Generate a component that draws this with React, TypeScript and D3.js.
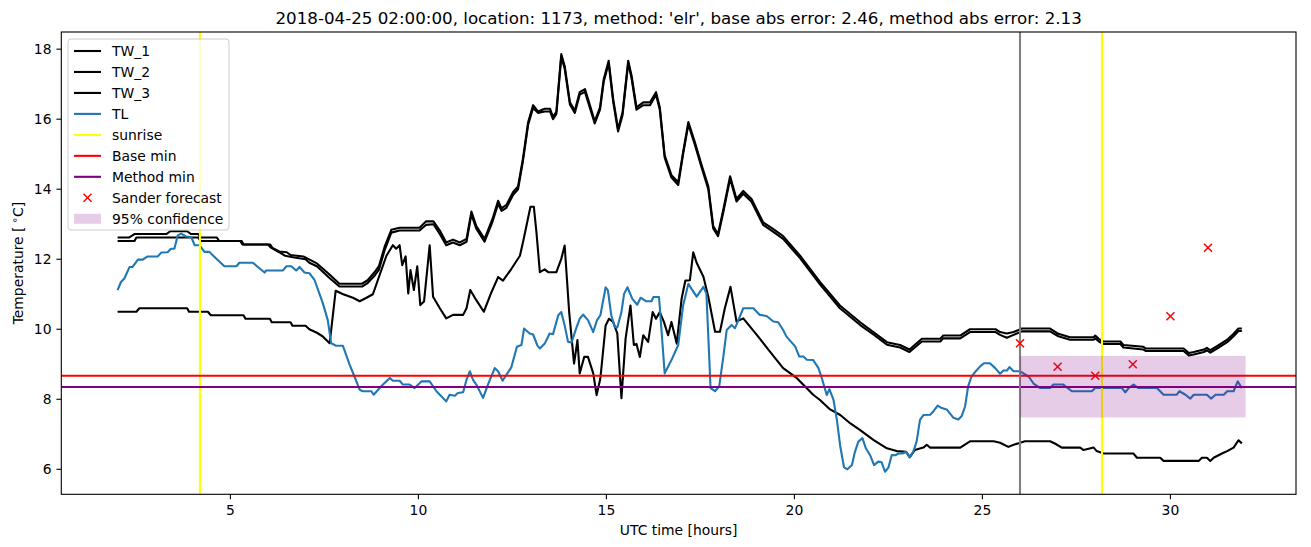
import React from "react";
import * as d3 from "d3";

type P = [number, number];

const TITLE = "2018-04-25 02:00:00, location: 1173, method: 'elr', base abs error: 2.46, method abs error: 2.13";
const X_TICKS = [5, 10, 15, 20, 25, 30];
const Y_TICKS = [6, 8, 10, 12, 14, 16, 18];
const LEGEND_LABELS = ["TW_1", "TW_2", "TW_3", "TL", "sunrise", "Base min", "Method min", "Sander forecast", "95% confidence"];

const tw1: P[] = [[2.0,12.62],[2.3,12.62],[2.45,12.72],[3.3,12.72],[3.4,12.8],[3.85,12.8],[3.95,12.72],[4.15,12.72],[4.2,12.62],[4.64,12.62],[4.7,12.52],[5.26,12.52],[5.32,12.42],[6.06,12.42],[6.12,12.32],[6.3,12.22],[6.5,12.2],[6.6,12.12],[6.94,12.08],[7.12,11.98],[7.3,11.88],[7.47,11.72],[7.65,11.55],[7.9,11.3],[8.5,11.3],[8.65,11.4],[8.85,11.65],[8.95,11.8],[9.1,12.35],[9.28,12.84],[9.5,12.9],[10.03,12.9],[10.2,13.08],[10.4,13.08],[10.58,12.8],[10.74,12.48],[10.92,12.56],[11.1,12.48],[11.28,12.58],[11.41,13.36],[11.54,12.95],[11.76,12.58],[11.97,13.15],[12.12,13.67],[12.21,13.45],[12.34,13.55],[12.52,13.92],[12.65,14.08],[12.78,14.87],[12.92,15.92],[13.05,16.4],[13.18,16.22],[13.36,16.3],[13.5,16.3],[13.58,16.06],[13.67,16.22],[13.8,17.86],[13.89,17.52],[14.03,16.48],[14.16,16.25],[14.29,16.77],[14.43,16.86],[14.51,16.58],[14.69,15.94],[14.83,16.34],[14.93,17.15],[15.06,17.67],[15.18,16.58],[15.31,15.72],[15.43,16.2],[15.58,17.67],[15.67,17.24],[15.8,16.34],[15.98,16.48],[16.16,16.48],[16.32,16.77],[16.42,16.34],[16.55,14.97],[16.73,14.4],[16.91,14.2],[17.04,15.06],[17.18,15.92],[17.35,15.35],[17.53,14.7],[17.71,14.08],[17.84,12.95],[17.97,12.72],[18.11,13.42],[18.29,14.37],[18.46,13.72],[18.64,13.95],[18.86,13.72],[19.17,13.05],[19.44,12.86],[19.7,12.66],[20.15,12.1],[20.68,11.35],[21.21,10.68],[21.75,10.2],[22.1,9.92],[22.46,9.63],[22.81,9.55],[23.06,9.42],[23.39,9.73],[23.88,9.73],[23.96,9.82],[24.41,9.82],[24.67,10.0],[25.35,10.0],[25.47,9.92],[25.65,9.88],[25.83,9.92],[26.05,10.02],[26.8,10.02],[27.02,9.87],[27.33,9.77],[27.96,9.77],[28.0,9.82],[28.1,9.72],[28.22,9.65],[28.67,9.65],[28.75,9.55],[29.28,9.5],[29.35,9.45],[29.55,9.45],[30.35,9.45],[30.49,9.32],[30.62,9.35],[30.89,9.42],[30.97,9.47],[31.06,9.4],[31.24,9.52],[31.51,9.7],[31.68,9.87],[31.81,10.02],[31.9,10.02]];

const tw2: P[] = [[2.0,12.52],[2.45,12.52],[2.5,12.62],[4.15,12.62],[4.2,12.52],[5.3,12.52],[5.35,12.42],[6.0,12.42],[6.08,12.33],[6.3,12.2],[6.45,12.1],[6.7,12.05],[7.0,12.0],[7.1,11.9],[7.3,11.8],[7.45,11.65],[7.65,11.45],[7.9,11.22],[8.5,11.22],[8.65,11.32],[8.85,11.55],[8.95,11.7],[9.1,12.25],[9.28,12.76],[9.5,12.82],[10.03,12.82],[10.2,12.98],[10.4,13.0],[10.58,12.7],[10.74,12.4],[10.92,12.48],[11.1,12.4],[11.28,12.5],[11.41,13.28],[11.54,12.87],[11.76,12.5],[11.97,13.07],[12.12,13.58],[12.21,13.38],[12.34,13.47],[12.52,13.84],[12.65,14.0],[12.78,14.8],[12.92,15.85],[13.05,16.32],[13.18,16.18],[13.36,16.22],[13.5,16.22],[13.58,16.0],[13.67,16.15],[13.8,17.78],[13.89,17.45],[14.03,16.42],[14.16,16.18],[14.29,16.7],[14.43,16.78],[14.51,16.5],[14.69,15.88],[14.83,16.27],[14.93,17.08],[15.06,17.6],[15.18,16.5],[15.31,15.65],[15.43,16.12],[15.58,17.6],[15.67,17.16],[15.8,16.27],[15.98,16.4],[16.16,16.4],[16.32,16.7],[16.42,16.27],[16.55,14.9],[16.73,14.33],[16.91,14.12],[17.04,15.0],[17.18,15.85],[17.35,15.28],[17.53,14.63],[17.71,14.0],[17.84,12.88],[17.97,12.66],[18.11,13.35],[18.29,14.3],[18.46,13.65],[18.64,13.87],[18.86,13.64],[19.17,12.98],[19.44,12.78],[19.7,12.58],[20.15,12.03],[20.68,11.28],[21.21,10.6],[21.75,10.12],[22.1,9.85],[22.46,9.56],[22.81,9.48],[23.06,9.35],[23.39,9.65],[23.88,9.65],[23.96,9.74],[24.41,9.74],[24.67,9.92],[25.35,9.92],[25.47,9.84],[25.65,9.76],[25.83,9.84],[26.05,9.94],[26.8,9.94],[27.02,9.8],[27.33,9.7],[27.96,9.7],[28.0,9.74],[28.1,9.65],[28.22,9.58],[28.67,9.58],[28.75,9.48],[29.28,9.42],[29.35,9.38],[29.55,9.38],[30.35,9.38],[30.49,9.25],[30.62,9.28],[30.89,9.35],[30.97,9.4],[31.06,9.33],[31.24,9.45],[31.51,9.63],[31.68,9.8],[31.81,9.95],[31.9,9.95]];

const tw3: P[] = [[2.0,10.5],[2.5,10.5],[2.58,10.6],[3.85,10.6],[3.9,10.5],[4.4,10.5],[4.48,10.4],[5.35,10.4],[5.4,10.3],[6.05,10.3],[6.1,10.2],[6.6,10.2],[6.65,10.1],[7.0,10.1],[7.1,10.0],[7.3,9.9],[7.45,9.8],[7.64,9.6],[7.8,11.1],[8.0,11.0],[8.26,10.9],[8.44,10.8],[8.62,10.9],[8.79,11.0],[8.92,11.4],[9.15,12.1],[9.32,12.4],[9.41,12.3],[9.5,12.4],[9.57,11.83],[9.66,12.08],[9.73,11.02],[9.79,11.69],[9.88,11.12],[9.97,11.8],[10.05,10.69],[10.15,10.79],[10.3,12.4],[10.39,10.93],[10.57,10.6],[10.74,10.31],[10.92,10.41],[11.19,10.41],[11.28,10.6],[11.38,11.12],[11.54,10.83],[11.74,10.5],[11.94,11.05],[12.12,11.49],[12.25,11.39],[12.47,11.72],[12.7,12.1],[12.78,12.48],[12.92,13.19],[12.98,13.5],[13.07,13.5],[13.14,12.77],[13.23,11.63],[13.36,11.71],[13.45,11.63],[13.67,11.63],[13.8,12.01],[13.89,12.39],[14.01,10.49],[14.14,9.02],[14.23,9.69],[14.29,8.74],[14.41,9.21],[14.51,9.21],[14.65,8.74],[14.74,8.12],[14.84,8.6],[14.98,10.11],[15.07,10.3],[15.18,10.21],[15.29,9.88],[15.4,8.03],[15.51,9.73],[15.64,10.68],[15.73,9.55],[15.8,9.58],[15.89,9.21],[15.98,9.83],[16.11,9.64],[16.23,10.49],[16.32,10.3],[16.42,10.49],[16.53,10.21],[16.64,9.83],[16.73,10.21],[16.87,9.59],[17.0,10.87],[17.1,11.39],[17.22,11.4],[17.31,12.2],[17.4,11.9],[17.58,11.5],[17.71,10.93],[17.89,9.93],[18.02,9.93],[18.15,10.6],[18.3,11.21],[18.46,10.22],[18.64,10.31],[19.0,9.84],[19.35,9.36],[19.7,8.89],[20.06,8.61],[20.5,8.13],[20.68,7.98],[20.95,7.71],[21.22,7.55],[21.49,7.31],[21.75,7.12],[22.1,6.84],[22.46,6.6],[22.72,6.52],[22.97,6.5],[23.07,6.35],[23.2,6.55],[23.43,6.62],[23.52,6.7],[23.61,6.62],[24.41,6.62],[24.67,6.8],[25.3,6.8],[25.47,6.76],[25.69,6.64],[25.83,6.7],[26.13,6.8],[26.8,6.8],[26.94,6.73],[27.11,6.62],[27.6,6.62],[27.69,6.55],[27.96,6.62],[28.04,6.52],[28.22,6.45],[29.02,6.45],[29.11,6.33],[29.73,6.33],[29.82,6.24],[30.75,6.24],[30.84,6.33],[30.97,6.33],[31.06,6.24],[31.15,6.33],[31.37,6.45],[31.51,6.52],[31.68,6.62],[31.81,6.83],[31.9,6.74]];

const tl: P[] = [[2.0,11.12],[2.09,11.35],[2.18,11.45],[2.32,11.78],[2.4,11.78],[2.54,11.99],[2.67,11.99],[2.8,12.08],[3.07,12.08],[3.16,12.19],[3.33,12.2],[3.42,12.3],[3.51,12.3],[3.6,12.68],[3.69,12.73],[3.82,12.65],[3.96,12.63],[4.05,12.4],[4.18,12.4],[4.31,12.21],[4.44,12.21],[4.62,12.02],[4.84,11.8],[5.16,11.8],[5.24,11.9],[5.6,11.9],[5.73,11.78],[5.91,11.62],[5.95,11.68],[6.4,11.68],[6.49,11.8],[6.62,11.8],[6.75,11.68],[6.84,11.78],[6.97,11.62],[7.1,11.6],[7.24,11.4],[7.46,10.74],[7.59,10.26],[7.68,9.6],[7.81,9.53],[7.99,9.53],[8.17,8.99],[8.3,8.65],[8.44,8.27],[8.52,8.23],[8.75,8.23],[8.81,8.13],[9.01,8.37],[9.24,8.61],[9.32,8.53],[9.5,8.53],[9.59,8.42],[9.77,8.42],[9.9,8.32],[10.08,8.51],[10.3,8.51],[10.48,8.23],[10.74,7.94],[10.83,8.13],[10.97,8.1],[11.05,8.18],[11.19,8.2],[11.28,8.56],[11.37,8.8],[11.45,8.56],[11.54,8.42],[11.72,8.04],[11.85,8.42],[12.03,8.89],[12.12,8.8],[12.24,8.53],[12.34,8.7],[12.47,8.91],[12.62,9.5],[12.74,9.55],[12.81,10.02],[12.96,9.88],[13.05,9.85],[13.16,9.55],[13.23,9.45],[13.36,9.59],[13.49,9.88],[13.58,9.86],[13.72,10.4],[13.8,10.49],[13.89,10.11],[13.98,9.64],[14.07,9.62],[14.21,10.07],[14.29,10.3],[14.38,10.42],[14.51,10.26],[14.65,9.92],[14.75,10.26],[14.84,10.4],[14.98,11.2],[15.04,11.11],[15.13,10.4],[15.22,10.07],[15.29,10.05],[15.4,10.49],[15.47,11.01],[15.56,11.2],[15.69,10.87],[15.82,10.7],[15.91,10.9],[16.05,10.8],[16.2,10.8],[16.25,10.92],[16.4,10.92],[16.55,8.74],[16.73,9.12],[16.91,9.55],[17.04,10.68],[17.18,11.3],[17.26,11.16],[17.4,10.93],[17.58,11.21],[17.66,11.02],[17.77,8.32],[17.89,8.23],[18.0,8.37],[18.11,9.22],[18.2,9.98],[18.33,10.12],[18.42,10.03],[18.51,10.26],[18.64,10.6],[18.91,10.6],[19.08,10.41],[19.26,10.38],[19.44,10.22],[19.57,10.2],[19.7,9.98],[19.79,9.79],[20.02,9.51],[20.13,9.22],[20.24,9.22],[20.33,9.13],[20.5,9.12],[20.64,8.89],[20.73,8.6],[20.86,8.12],[20.93,8.29],[21.04,7.98],[21.13,7.41],[21.22,6.65],[21.32,6.06],[21.41,6.0],[21.53,6.12],[21.61,6.5],[21.7,6.79],[21.81,6.89],[21.9,6.6],[22.01,6.41],[22.12,6.12],[22.23,6.22],[22.32,6.2],[22.41,5.93],[22.5,6.05],[22.59,6.41],[22.68,6.4],[22.77,6.45],[22.88,6.45],[22.97,6.5],[23.06,6.34],[23.16,6.5],[23.25,6.79],[23.34,7.41],[23.43,7.55],[23.61,7.56],[23.7,7.66],[23.81,7.82],[23.92,7.75],[24.05,7.71],[24.23,7.47],[24.36,7.42],[24.45,7.52],[24.54,7.8],[24.62,8.37],[24.71,8.65],[24.8,8.77],[24.94,8.94],[25.04,9.03],[25.2,9.03],[25.34,8.89],[25.47,8.73],[25.56,8.82],[25.65,8.82],[25.72,8.92],[25.83,8.8],[25.96,8.8],[26.05,8.77],[26.23,8.65],[26.36,8.45],[26.54,8.32],[26.8,8.32],[26.89,8.42],[27.15,8.42],[27.38,8.23],[27.91,8.23],[28.0,8.32],[28.71,8.32],[28.8,8.2],[28.89,8.32],[29.02,8.42],[29.15,8.32],[29.64,8.32],[29.82,8.13],[30.17,8.13],[30.24,8.23],[30.4,8.13],[30.53,8.02],[30.62,8.13],[30.97,8.13],[31.08,8.02],[31.2,8.13],[31.42,8.13],[31.51,8.23],[31.68,8.23],[31.79,8.51],[31.9,8.32]];

const sunriseTimes = [4.19, 28.18];
const nowTime = 26;
const baseMin = 8.67;
const methodMin = 8.35;
const forecastHours = [26, 27, 28, 29, 30, 31];
const forecastValues = [9.6, 8.93, 8.67, 9.0, 10.37, 12.33];
const confidenceRange = [26, 32];
const confidenceBounds = [7.48, 9.24];

const W = 1311;
const H = 547;
const M = { left: 61.3, right: 1296, top: 32, bottom: 494.3 };
const FONT = "DejaVu Sans, sans-serif";
const TL_COLOR = "#1f77b4";

export default function App() {
  const x = d3.scaleLinear().domain([0.503, 33.34]).range([M.left, M.right]);
  const y = d3.scaleLinear().domain([5.286, 18.49]).range([M.bottom, M.top]);
  const line = d3.line<P>().x((d) => x(d[0])).y((d) => y(d[1]));

  const legendX = 68;
  const legendY = 39;
  const rowH = 20.97;
  const firstRow = 51;

  const handle = (i: number) => {
    const cy = firstRow + i * rowH;
    const x1 = 74, x2 = 101;
    if (i <= 2) return <line x1={x1} x2={x2} y1={cy} y2={cy} stroke="black" strokeWidth={2.1} />;
    if (i === 3) return <line x1={x1} x2={x2} y1={cy} y2={cy} stroke={TL_COLOR} strokeWidth={2.1} />;
    if (i === 4) return <line x1={x1} x2={x2} y1={cy} y2={cy} stroke="yellow" strokeWidth={2.1} />;
    if (i === 5) return <line x1={x1} x2={x2} y1={cy} y2={cy} stroke="red" strokeWidth={2.1} />;
    if (i === 6) return <line x1={x1} x2={x2} y1={cy} y2={cy} stroke="purple" strokeWidth={2.1} />;
    if (i === 7) {
      const cx = 87.5, r = 4;
      return (
        <g stroke="red" strokeWidth={1.5}>
          <line x1={cx - r} x2={cx + r} y1={cy - r} y2={cy + r} />
          <line x1={cx - r} x2={cx + r} y1={cy + r} y2={cy - r} />
        </g>
      );
    }
    return <rect x={x1} y={cy - 5} width={x2 - x1} height={10} fill="purple" fillOpacity={0.2} />;
  };

  return (
    <div style={{ width: W, height: H }}>
      <style>{`body{margin:0;}`}</style>
      <svg width={W} height={H} style={{ display: "block", background: "white" }} fontFamily={FONT}>
        <defs>
          <clipPath id="plotclip">
            <rect x={M.left} y={M.top} width={M.right - M.left} height={M.bottom - M.top} />
          </clipPath>
        </defs>
        <rect x={0} y={0} width={W} height={H} fill="white" />
        <g clipPath="url(#plotclip)">
          <path d={line(tw1) || ""} fill="none" stroke="black" strokeWidth={2.1} strokeLinejoin="round" />
          <path d={line(tw2) || ""} fill="none" stroke="black" strokeWidth={2.1} strokeLinejoin="round" />
          <path d={line(tw3) || ""} fill="none" stroke="black" strokeWidth={2.1} strokeLinejoin="round" />
          <path d={line(tl) || ""} fill="none" stroke={TL_COLOR} strokeWidth={2.1} strokeLinejoin="round" />
          {sunriseTimes.map((t, i) => (
            <line key={"s" + i} x1={x(t)} x2={x(t)} y1={M.top} y2={M.bottom} stroke="yellow" strokeWidth={2.1} />
          ))}
          <line x1={M.left} x2={M.right} y1={y(baseMin)} y2={y(baseMin)} stroke="red" strokeWidth={2.1} />
          <line x1={M.left} x2={M.right} y1={y(methodMin)} y2={y(methodMin)} stroke="purple" strokeWidth={2.1} />
          <line x1={x(nowTime)} x2={x(nowTime)} y1={M.top} y2={M.bottom} stroke="gray" strokeWidth={2.1} />
          {forecastHours.map((t, i) => {
            const cx = x(t), cy = y(forecastValues[i]), r = 4;
            return (
              <g key={"f" + i} stroke="red" strokeWidth={1.5}>
                <line x1={cx - r} x2={cx + r} y1={cy - r} y2={cy + r} />
                <line x1={cx - r} x2={cx + r} y1={cy + r} y2={cy - r} />
              </g>
            );
          })}
          <rect
            x={x(confidenceRange[0])}
            y={y(confidenceBounds[1])}
            width={x(confidenceRange[1]) - x(confidenceRange[0])}
            height={y(confidenceBounds[0]) - y(confidenceBounds[1])}
            fill="purple"
            fillOpacity={0.2}
          />
        </g>

        {/* axes frame */}
        <rect x={M.left} y={M.top} width={M.right - M.left} height={M.bottom - M.top} fill="none" stroke="black" strokeWidth={1.1} />

        {X_TICKS.map((t) => (
          <g key={"xt" + t}>
            <line x1={x(t)} x2={x(t)} y1={M.bottom} y2={M.bottom + 4.9} stroke="black" strokeWidth={1.1} />
            <text x={x(t)} y={M.bottom + 20.5} textAnchor="middle" fontSize={13.9} fill="black">{t}</text>
          </g>
        ))}
        {Y_TICKS.map((v) => (
          <g key={"yt" + v}>
            <line x1={M.left - 4.9} x2={M.left} y1={y(v)} y2={y(v)} stroke="black" strokeWidth={1.1} />
            <text x={M.left - 9.8} y={y(v)} dy="0.35em" textAnchor="end" fontSize={13.9} fill="black">{v}</text>
          </g>
        ))}

        <text x={(M.left + M.right) / 2} y={535} textAnchor="middle" fontSize={13.9} fill="black">UTC time [hours]</text>
        <text transform={`translate(23, ${(M.top + M.bottom) / 2}) rotate(-90)`} textAnchor="middle" fontSize={13.9} fill="black">
          Temperature [<tspan fontSize={10} dy={-5}> ∘</tspan><tspan dy={5}>C]</tspan>
        </text>
        <text x={(M.left + M.right) / 2} y={24} textAnchor="middle" fontSize={16.7} fill="black">{TITLE}</text>

        {/* legend */}
        <rect x={legendX} y={legendY} width={161} height={191} rx={3} fill="white" fillOpacity={0.8} stroke="#cccccc" strokeWidth={1} />
        {LEGEND_LABELS.map((lab, i) => (
          <g key={"lg" + i}>
            {handle(i)}
            <text x={112} y={firstRow + i * rowH} dy="0.35em" fontSize={13.9} fill="black">{lab}</text>
          </g>
        ))}
      </svg>
    </div>
  );
}
